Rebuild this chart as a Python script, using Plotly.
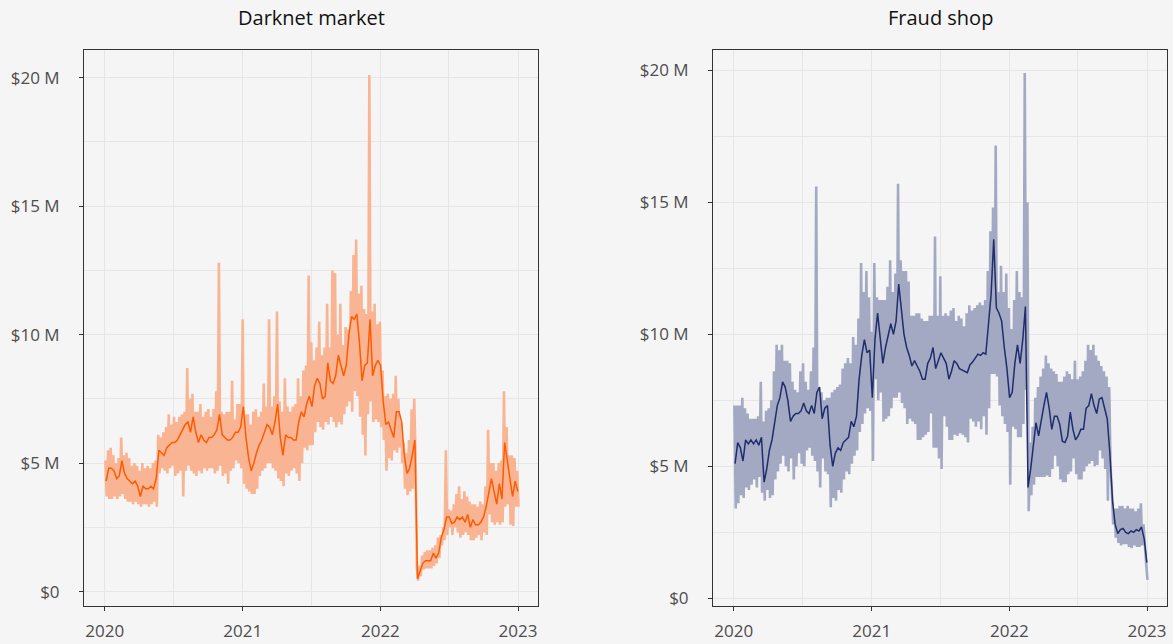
import pandas as pd
import plotly.graph_objects as go

# Weekly readings, in $ millions, starting the week of 2020-01-01 (157 weeks).
# *_high: busiest day of the week, *_low: quietest day, *_avg: 7-day average.
darknet_high = [
    5.1, 5.5, 5.6, 5.3, 5.0, 5.2, 6.0, 5.3, 5.4, 5.2,
    4.9, 5.0, 4.9, 4.7, 5.0, 4.8, 4.9, 4.8, 5.0, 5.1,
    6.1, 6.0, 6.2, 6.4, 6.9, 6.5, 6.8, 6.6, 6.8, 6.9,
    7.0, 8.7, 7.5, 7.7, 7.0, 7.0, 7.3, 6.8, 7.0, 7.1,
    6.8, 7.1, 7.8, 12.8, 7.0, 6.9, 7.0, 7.0, 8.2, 6.7,
    7.3, 7.3, 10.6, 6.9, 6.9, 6.5, 7.0, 7.1, 6.8, 7.0,
    8.1, 7.2, 10.6, 7.2, 7.6, 10.9, 7.4, 7.0, 8.3, 7.2,
    7.0, 7.2, 7.3, 8.3, 7.6, 8.6, 8.8, 12.3, 9.7, 9.0,
    9.5, 10.5, 9.2, 9.5, 11.2, 9.5, 12.5, 12.4, 10.0, 11.2,
    9.6, 10.3, 10.2, 11.7, 13.1, 13.7, 11.6, 11.9, 11.0, 10.8,
    20.1, 10.9, 11.2, 10.4, 10.5, 8.6, 7.6, 7.7, 7.5, 7.7,
    8.4, 7.5, 6.6, 5.8, 5.4, 5.9, 7.1, 7.5, 0.9, 1.0,
    1.4, 1.55, 1.6, 1.6, 1.7, 1.8, 2.1, 2.2, 2.5, 5.5,
    3.2, 3.15, 3.4, 3.8, 4.1, 3.6, 3.9, 3.7, 3.5, 3.4,
    3.4, 3.3, 3.5, 3.4, 4.1, 6.3, 5.0, 5.0, 4.7, 5.0,
    5.1, 7.8, 6.4, 5.3, 5.3, 5.2, 4.7,
]
darknet_low = [
    3.7, 3.6, 3.6, 3.7, 3.6, 3.7, 3.8, 3.6, 3.5, 3.5,
    3.4, 3.5, 3.4, 3.3, 3.4, 3.4, 3.3, 3.4, 3.5, 3.3,
    4.6, 4.8, 4.7, 4.6, 4.8, 4.9, 4.5, 4.6, 4.7, 3.7,
    4.7, 4.9, 4.7, 4.6, 4.5, 4.7, 4.6, 4.8, 4.7, 4.8,
    4.8, 4.6, 4.7, 4.9, 4.5, 4.6, 4.2, 4.7, 4.8, 5.1,
    5.0, 4.8, 4.2, 4.0, 3.9, 3.8, 3.8, 4.0, 4.5, 4.7,
    4.8, 5.0, 5.0, 4.8, 4.7, 4.4, 4.3, 4.1, 4.6, 4.5,
    4.7, 4.8, 4.6, 4.3, 5.0, 5.6, 5.5, 5.7, 5.7, 6.2,
    6.6, 6.4, 6.3, 6.6, 6.5, 6.8, 6.6, 6.4, 6.6, 6.5,
    6.9, 7.2, 7.4, 7.0, 7.8, 7.6, 6.8, 6.1, 5.3, 6.9,
    7.4, 6.6, 6.7, 6.6, 6.4, 5.9, 4.7, 5.2, 5.1, 5.5,
    5.4, 5.6, 5.0, 4.0, 3.75, 3.9, 4.0, 5.3, 0.43, 0.6,
    0.85, 0.9, 0.9, 0.9, 1.0, 1.1, 1.3, 1.8, 2.0, 2.2,
    2.5, 2.2, 2.5, 2.3, 2.1, 2.2, 2.3, 2.2, 2.0, 2.0,
    2.1, 2.2, 2.0, 2.3, 2.2, 3.0, 2.7, 2.6, 2.7, 2.6,
    2.7, 3.3, 3.4, 2.6, 2.55, 3.3, 3.3,
]
darknet_avg = [
    4.3, 4.8, 4.8, 4.7, 4.4, 4.5, 5.1, 4.6, 4.4, 4.3,
    4.2, 4.3, 4.1, 3.7, 4.1, 4.0, 4.0, 4.1, 4.0, 4.4,
    5.5, 5.4, 5.3, 5.6, 5.7, 5.8, 5.8, 5.9, 6.1, 6.3,
    6.5, 6.6, 6.2, 6.8, 6.2, 5.8, 6.1, 5.9, 5.8, 6.0,
    6.0, 6.1, 6.3, 6.9, 6.1, 6.0, 5.9, 5.9, 6.0, 6.2,
    6.2, 6.4, 7.2, 6.0, 5.2, 4.7, 5.0, 5.4, 5.7, 5.9,
    6.2, 6.5, 6.4, 6.1, 6.6, 7.3, 6.0, 5.3, 6.1, 6.0,
    6.0, 5.9, 5.9, 6.6, 7.0, 6.8, 7.3, 7.6, 7.2, 8.0,
    8.3, 8.1, 7.5, 7.6, 8.9, 8.2, 8.1, 8.4, 9.2, 8.8,
    8.4, 8.8, 10.0, 10.7, 10.6, 10.8, 9.7, 8.2, 8.8, 8.9,
    10.6, 8.4, 8.8, 9.0, 8.8, 7.4, 6.5, 6.6, 6.3, 6.0,
    7.0, 7.0, 6.6, 5.3, 4.6, 4.8, 5.3, 5.9, 0.5, 0.8,
    1.1, 1.2, 1.2, 1.2, 1.5, 1.3, 1.5, 2.1, 2.4, 2.9,
    2.9, 2.65, 2.7, 2.9, 2.8, 2.9, 2.7, 3.0, 2.5, 2.8,
    2.6, 2.6, 2.7, 2.9, 3.3, 3.8, 4.4, 3.9, 3.4, 4.2,
    3.6, 5.8, 5.1, 4.5, 3.7, 4.3, 3.9,
]

fraud_high = [
    7.3, 7.3, 7.3, 7.6, 7.2, 7.0, 6.8, 6.8, 6.8, 6.9,
    8.2, 6.7, 7.1, 7.2, 7.5, 8.6, 9.6, 9.4, 9.6, 9.0,
    9.0, 8.9, 8.2, 7.9, 7.8, 8.6, 8.9, 8.2, 7.9, 8.6,
    9.5, 15.6, 8.0, 7.8, 7.5, 7.6, 7.6, 7.8, 7.9, 8.0,
    8.1, 8.7, 8.9, 9.1, 8.9, 9.9, 9.6, 10.6, 12.7, 11.6,
    12.4, 11.4, 10.1, 12.7, 11.4, 11.3, 11.3, 11.3, 11.8, 12.8,
    11.6, 12.3, 15.7, 12.8, 12.4, 12.4, 12.0, 10.7, 10.7, 10.8,
    10.8, 10.6, 10.5, 10.5, 10.7, 10.7, 13.7, 10.7, 12.2, 10.7,
    10.8, 10.7, 10.9, 11.0, 10.5, 10.7, 10.6, 10.3, 10.8, 11.1,
    10.9, 11.0, 11.1, 11.2, 11.1, 11.3, 12.4, 13.9, 14.8, 17.15,
    11.6, 12.6, 11.6, 12.3, 11.0, 10.2, 11.3, 12.4, 11.6, 11.4,
    19.9, 15.0, 5.9, 6.5, 7.6, 8.0, 8.4, 8.7, 9.2, 8.9,
    8.7, 8.6, 8.5, 8.2, 8.2, 8.4, 8.6, 8.5, 8.3, 9.0,
    8.3, 8.4, 8.6, 9.0, 9.6, 9.4, 9.6, 9.2, 9.0, 8.8,
    8.6, 8.4, 8.0, 4.1, 3.4, 3.4, 3.5, 3.5, 3.4, 3.5,
    3.4, 3.4, 3.3, 3.4, 3.6, 2.8, 1.3,
]
fraud_low = [
    3.4, 3.6, 3.9, 3.8, 4.2, 4.1, 4.3, 4.5, 4.2, 4.6,
    4.0, 3.7, 4.1, 3.8, 3.9, 4.5, 4.8, 5.1, 5.4, 5.0,
    4.8, 5.3, 4.5, 5.0, 5.5, 5.1, 5.0, 5.6, 5.7, 5.4,
    5.2, 4.8, 4.2, 5.3, 4.8, 4.7, 3.45, 3.8, 3.7, 4.1,
    4.0, 4.5, 4.8, 4.7, 5.1, 5.4, 5.6, 6.3, 6.6, 7.0,
    7.2, 7.1, 5.2, 8.3, 7.5, 7.8, 6.7, 6.8, 6.9, 7.2,
    7.6, 7.6, 7.8, 7.4, 7.2, 6.6, 6.8, 6.7, 6.6, 6.0,
    6.0, 6.1, 6.2, 6.3, 7.0, 5.7, 5.7, 5.3, 4.9, 6.9,
    6.5, 6.0, 6.0, 6.2, 6.15, 6.25, 6.2, 6.1, 5.9, 6.8,
    6.7, 6.5, 6.7, 6.4, 6.9, 6.2, 7.2, 8.5, 8.5, 8.4,
    7.3, 6.9, 6.6, 6.3, 4.3, 6.5, 6.4, 6.1, 6.1, 6.6,
    7.9, 3.3, 3.9, 4.3, 4.6, 4.6, 4.6, 4.6, 4.65, 4.6,
    4.9, 5.4, 5.0, 4.5, 4.4, 4.4, 4.7, 4.8, 5.3, 4.7,
    4.5, 4.5, 4.8, 5.0, 5.1, 5.2, 5.0, 5.05, 5.6, 5.3,
    4.9, 3.7, 5.0, 2.8, 2.3, 2.1, 2.0, 2.05, 2.05, 1.95,
    1.9, 2.0, 1.95, 1.95, 2.0, 1.8, 0.7,
]
fraud_avg = [
    5.1, 5.9, 5.7, 5.2, 6.0, 5.85, 6.0, 5.85, 6.0, 5.8,
    6.1, 4.4, 4.9, 5.6, 6.0, 6.7, 7.3, 7.6, 8.2, 8.0,
    7.5, 6.7, 6.9, 7.0, 7.0, 7.1, 7.4, 7.1, 7.0, 7.3,
    7.0, 7.8, 8.0, 6.8, 7.2, 7.3, 5.8, 5.0, 5.5, 5.7,
    5.6, 5.9, 6.0, 6.1, 6.7, 6.5, 6.9, 8.3, 9.2, 9.8,
    9.3, 9.4, 7.6, 9.8, 10.8, 9.7, 8.9, 9.5, 10.0, 10.4,
    10.0, 10.5, 11.9, 11.0, 10.0, 9.5, 9.2, 8.8, 9.0, 8.8,
    8.6, 8.3, 8.3, 8.9, 9.1, 9.5, 8.7, 9.0, 9.3, 9.1,
    8.9, 8.3, 8.6, 9.0, 8.9, 8.7, 8.65, 8.6, 8.55, 8.85,
    8.95, 9.1, 9.25, 9.2, 9.3, 9.25, 10.5, 11.5, 13.6, 11.0,
    10.8, 10.5, 9.5, 8.7, 7.6, 7.8, 8.9, 9.6, 8.9, 9.8,
    11.05, 4.2, 4.9, 5.75, 6.65, 6.15, 6.8, 7.3, 7.8, 7.2,
    6.4, 6.9, 6.9, 6.6, 5.95, 5.9, 6.15, 7.05, 6.4, 6.0,
    6.15, 6.4, 6.4, 7.2, 7.3, 7.75, 7.3, 7.0, 7.55, 7.6,
    7.2, 6.8, 5.5, 3.7, 2.8, 2.45, 2.6, 2.65, 2.5, 2.45,
    2.55, 2.5, 2.6, 2.55, 2.7, 2.25, 1.35,
]

year_ticks = ["2020-01-01", "2021-01-01", "2022-01-01", "2023-01-01"]
year_labels = ["2020", "2021", "2022", "2023"]
half_year_ticks = ["2020-07-01", "2021-07-01", "2022-07-01"]
usd_ticks = [0, 5, 10, 15, 20]
usd_labels = ["$0", "$5 M", "$10 M", "$15 M", "$20 M"]
usd_minor = [2.5, 7.5, 12.5, 17.5]

week_start = pd.date_range("2020-01-01", periods=len(darknet_avg), freq="7D")
for name, arr in [("darknet_high", darknet_high), ("darknet_low", darknet_low),
                  ("fraud_high", fraud_high), ("fraud_low", fraud_low),
                  ("fraud_avg", fraud_avg)]:
    assert len(arr) == len(week_start), (name, len(arr))


def daily_trace(high, low):
    """Busy mid-week day followed by the quiet weekend, week after week."""
    xs, ys = [], []
    for d, hi, lo in zip(week_start, high, low):
        xs += [d + pd.Timedelta(hours=42), d + pd.Timedelta(hours=126)]
        ys += [hi, lo]
    return xs, ys


avg_x = week_start + pd.Timedelta(hours=84)

ORANGE = "#FF5A00"
ORANGE_LIGHT = "#F9B593"
NAVY = "#1F2D6D"
NAVY_LIGHT = "#A3A9C3"
BG = "#F5F5F5"
GRID = "#E6E6E6"
AXIS = "#333333"
FONT = "Open Sans"

fig = go.Figure()

dx, dy = daily_trace(darknet_high, darknet_low)
fig.add_trace(go.Scatter(x=dx, y=dy, mode="lines", xaxis="x", yaxis="y",
                         line=dict(color=ORANGE_LIGHT, width=2.6), hoverinfo="skip"))
fig.add_trace(go.Scatter(x=avg_x, y=darknet_avg, mode="lines", xaxis="x", yaxis="y",
                         line=dict(color=ORANGE, width=1.5)))

fx, fy = daily_trace(fraud_high, fraud_low)
fig.add_trace(go.Scatter(x=fx, y=fy, mode="lines", xaxis="x2", yaxis="y2",
                         line=dict(color=NAVY_LIGHT, width=2.6), hoverinfo="skip"))
fig.add_trace(go.Scatter(x=avg_x, y=fraud_avg, mode="lines", xaxis="x2", yaxis="y2",
                         line=dict(color=NAVY, width=1.5)))

W, H = 1173, 644
y_dom = [1 - 609.5 / H, 1 - 50 / H]
left_dom = [84 / W, 538 / W]
right_dom = [713 / W, 1167 / W]


def x_axis(domain, anchor):
    return dict(
        domain=domain, anchor=anchor, type="date",
        range=["2019-11-07", "2023-02-23"],
        tickmode="array", tickvals=year_ticks, ticktext=year_labels,
        ticks="outside", ticklen=4, tickcolor=AXIS, tickwidth=1,
        showline=True, linecolor=AXIS, linewidth=1, mirror=True,
        showgrid=True, gridcolor=GRID, gridwidth=1, zeroline=False,
        minor=dict(tickmode="array", tickvals=half_year_ticks, showgrid=True,
                   gridcolor=GRID, gridwidth=1, ticks=""),
        tickfont=dict(family=FONT, size=17, color="#4D4D4D"),
        ticklabelstandoff=6,
    )


def y_axis(domain, anchor, rng):
    return dict(
        domain=domain, anchor=anchor, range=rng,
        tickmode="array", tickvals=usd_ticks, ticktext=usd_labels,
        ticks="outside", ticklen=4, tickcolor=AXIS, tickwidth=1,
        showline=True, linecolor=AXIS, linewidth=1, mirror=True,
        showgrid=True, gridcolor=GRID, gridwidth=1, zeroline=False,
        minor=dict(tickmode="array", tickvals=usd_minor, showgrid=True,
                   gridcolor=GRID, gridwidth=1, ticks=""),
        tickfont=dict(family=FONT, size=17, color="#4D4D4D"),
        ticklabelstandoff=16,
    )


title_font = dict(family=FONT, size=20, color="#111111")
fig.update_layout(
    width=W, height=H,
    margin=dict(l=0, r=0, t=0, b=0),
    paper_bgcolor=BG, plot_bgcolor=BG,
    showlegend=False,
    font=dict(family=FONT),
    xaxis=x_axis(left_dom, "y"),
    yaxis=y_axis(y_dom, "x", [-0.55, 21.09]),
    xaxis2=x_axis(right_dom, "y2"),
    yaxis2=y_axis(y_dom, "x2", [-0.28, 20.78]),
    annotations=[
        dict(text="Darknet market", x=sum(left_dom) / 2, y=1 - 18 / H,
             xref="paper", yref="paper", xanchor="center", yanchor="middle",
             showarrow=False, font=title_font),
        dict(text="Fraud shop", x=sum(right_dom) / 2, y=1 - 18 / H,
             xref="paper", yref="paper", xanchor="center", yanchor="middle",
             showarrow=False, font=title_font),
    ],
)

fig.write_html("out.html")
